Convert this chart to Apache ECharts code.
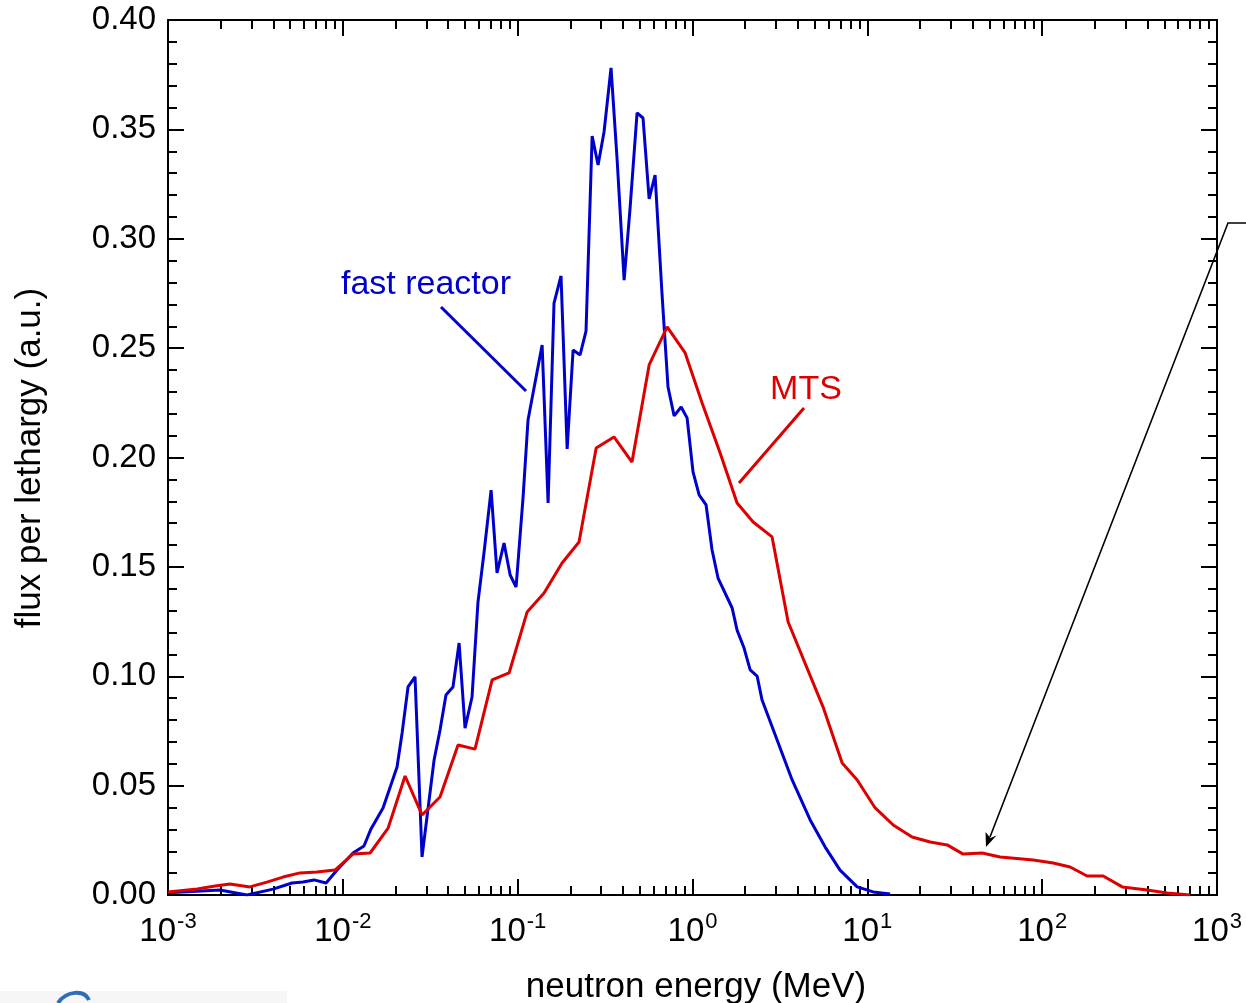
<!DOCTYPE html>
<html>
<head>
<meta charset="utf-8">
<script src="https://cdn.jsdelivr.net/npm/echarts@6/dist/echarts.min.js"></script>
<style>
html,body{margin:0;padding:0;background:#fff;}
#chart{width:1246px;height:1003px;}
</style>
</head>
<body>
<div id="chart"></div>
<script>
// ---- data (energy in MeV, flux per lethargy in a.u.) ----
var blueE = [0.0010,0.00198,0.00283,0.00399,0.00512,0.00592,0.00684,0.00802,0.00927,0.01143,0.01321,0.01449,0.01698,0.02042,0.02183,0.02360,0.02588,0.02838,0.03326,0.03597,0.03890,0.04266,0.04624,0.05000,0.05483,0.05929,0.06427,0.07047,0.07621,0.08356,0.09057,0.09795,0.1074,0.1146,0.1380,0.1493,0.1614,0.1770,0.1919,0.2075,0.2275,0.2460,0.2667,0.2884,0.3119,0.3420,0.3707,0.4064,0.4396,0.4819,0.5212,0.5649,0.6109,0.6699,0.7244,0.7852,0.8610,0.9311,1.007,1.091,1.196,1.294,1.400,1.686,1.799,1.972,2.137,2.342,2.500,3.048,3.715,4.710,5.741,6.98,8.75,10.8,13.5];
var blueFlux = [0.001,0.0023,0.0000,0.0027,0.0055,0.0059,0.0069,0.0055,0.0114,0.0192,0.0224,0.0302,0.0398,0.0585,0.0741,0.0951,0.0997,0.0174,0.0617,0.0754,0.0914,0.0951,0.1152,0.0763,0.0905,0.1339,0.1568,0.1851,0.1472,0.1609,0.1463,0.1408,0.1819,0.2171,0.2514,0.1792,0.2706,0.2830,0.2039,0.2491,0.2469,0.2578,0.3470,0.3337,0.3488,0.3781,0.3360,0.2811,0.3141,0.3575,0.3552,0.3182,0.3291,0.2743,0.2322,0.2190,0.2231,0.2181,0.1934,0.1829,0.1783,0.1577,0.1449,0.1312,0.1211,0.1129,0.1029,0.1001,0.0891,0.0709,0.0526,0.0343,0.0219,0.0114,0.0037,0.0014,0.0005];
var redE = [0.0010,0.00147,0.00186,0.00226,0.00294,0.00368,0.00455,0.00569,0.00711,0.00901,0.01143,0.01432,0.01816,0.02270,0.02838,0.03597,0.04560,0.05702,0.07145,0.08933,0.1133,0.1416,0.1795,0.2244,0.2812,0.3556,0.4508,0.5649,0.7161,0.9078,1.135,1.439,1.799,2.222,2.852,3.524,5.585,7.178,8.75,11.09,14.06,18.03,22.87,28.62,35.32,45.36,57.5,88.9,115.6,144.5,180.8,223.4,287.1,399,519,703];
var redFlux = [0.0014,0.0027,0.0041,0.0050,0.0037,0.0059,0.0082,0.0101,0.0105,0.0114,0.0187,0.0192,0.0306,0.0544,0.0366,0.0448,0.0686,0.0667,0.0983,0.1015,0.1294,0.1381,0.1518,0.1614,0.2043,0.2094,0.1979,0.2423,0.2597,0.2478,0.2249,0.2021,0.1792,0.1705,0.1637,0.1248,0.0859,0.0603,0.0526,0.0398,0.0320,0.0265,0.0242,0.0229,0.0187,0.0192,0.0174,0.0160,0.0146,0.0128,0.0087,0.0087,0.0037,0.0023,0.0009,0.0000];
var xMajorTicks = [0.001,0.01,0.1,1,10,100,1000];
var yTicks = [0,0.05,0.10,0.15,0.20,0.25,0.30,0.35,0.40];
var seriesNames = ['fast reactor','MTS'];

// log minor tick positions 2..9 x 10^n
var xMinorTicks = [];
for (var d = -3; d < 3; d++) {
  for (var m = 2; m <= 9; m++) xMinorTicks.push(parseFloat((m * Math.pow(10, d)).toPrecision(3)));
}

var FONT = '"Liberation Sans", Arial, sans-serif';
var BLUE = '#0000CD';
var RED = '#DD0000';

function pairs(xs, ys) { return xs.map(function (x, i) { return [x, ys[i]]; }); }

function xAxisDef(pos, major) {
  return {
    type: 'log', logBase: 10, min: 0.001, max: 1000, position: pos,
    axisLine: { show: major, onZero: false, lineStyle: { color: '#000', width: 2 } },
    axisTick: { show: true, inside: true, length: major ? 16 : 9,
      customValues: major ? xMajorTicks : xMinorTicks,
      lineStyle: { color: '#000', width: 2 } },
    axisLabel: (major && pos === 'bottom') ? {
      show: true, customValues: xMajorTicks, margin: 18,
      formatter: function (v) {
        var e = Math.round(Math.log10(v));
        return '{b|10}{s|' + e + '}';
      },
      rich: {
        b: { fontSize: 33, fontFamily: FONT, color: '#000', verticalAlign: 'bottom', lineHeight: 35 },
        s: { fontSize: 22, fontFamily: FONT, color: '#000', verticalAlign: 'bottom', lineHeight: 35, padding: [0, 0, 15, 1] }
      }
    } : { show: false },
    splitLine: { show: false },
    minorTick: { show: false }
  };
}

function yAxisDef(pos) {
  return {
    type: 'value', min: 0, max: 0.4, interval: 0.05, position: pos,
    axisLine: { show: true, onZero: false, lineStyle: { color: '#000', width: 2 } },
    axisTick: { show: true, inside: true, length: 16, lineStyle: { color: '#000', width: 2 } },
    minorTick: { show: true, splitNumber: 5, length: 9, lineStyle: { color: '#000', width: 2 } },
    axisLabel: pos === 'left' ? {
      show: true, margin: 12, fontSize: 33, fontFamily: FONT, color: '#000',
      formatter: function (v) { return v.toFixed(2); }
    } : { show: false },
    splitLine: { show: false }
  };
}

var chart = echarts.init(document.getElementById('chart'), null, { renderer: 'canvas' });

var option = {
  backgroundColor: '#fff',
  animation: false,
  grid: { left: 168, right: 29, top: 20, bottom: 108, containLabel: false, outerBoundsMode: 'none' },
  xAxis: [xAxisDef('bottom', true), xAxisDef('bottom', false), xAxisDef('top', true), xAxisDef('top', false)],
  yAxis: [yAxisDef('left'), yAxisDef('right')],
  series: [
    { name: seriesNames[0], type: 'line', xAxisIndex: 0, yAxisIndex: 0, data: pairs(blueE, blueFlux),
      showSymbol: false, symbol: 'none', lineStyle: { color: BLUE, width: 3 }, z: 3 },
    { name: seriesNames[1], type: 'line', xAxisIndex: 0, yAxisIndex: 0, data: pairs(redE, redFlux),
      showSymbol: false, symbol: 'none', lineStyle: { color: RED, width: 3 }, z: 4 }
  ],
  graphic: [
    { type: 'text', style: { text: 'neutron energy (MeV)', fontSize: 35, fontFamily: FONT, fill: '#000',
      x: 696, y: 987, align: 'center', verticalAlign: 'middle' } },
    { type: 'text', rotation: Math.PI / 2, x: 30, y: 458,
      style: { text: 'flux per lethargy (a.u.)', fontSize: 35, fontFamily: FONT, fill: '#000', x: 0, y: 0, align: 'center', verticalAlign: 'middle' } },
    { type: 'text', style: { text: seriesNames[0], fontSize: 34, fontFamily: FONT, fill: BLUE, x: 426, y: 285, align: 'center', verticalAlign: 'middle' } },
    { type: 'line', shape: { x1: 441, y1: 307, x2: 526, y2: 391 }, style: { stroke: BLUE, lineWidth: 3 } },
    { type: 'text', style: { text: seriesNames[1], fontSize: 34, fontFamily: FONT, fill: RED, x: 806, y: 390, align: 'center', verticalAlign: 'middle' } },
    { type: 'line', shape: { x1: 804, y1: 408, x2: 739, y2: 483 }, style: { stroke: RED, lineWidth: 3 } },
    { type: 'polyline', shape: { points: [[1246, 223], [1228, 223], [990, 837]] }, style: { stroke: '#000', lineWidth: 1.6, fill: null } },
    { type: 'polygon', shape: { points: [[986, 847], [996.5, 835.5], [990.5, 838], [985.5, 832]] }, style: { fill: '#000' } },
    { type: 'rect', shape: { x: 0, y: 991, width: 287, height: 12 }, style: { fill: '#f6f6f6' }, z: -1 },
    { type: 'bezierCurve', shape: { x1: 58, y1: 1003, cpx1: 66, cpy1: 991, cpx2: 84, cpy2: 989, x2: 89, y2: 1000 }, style: { stroke: '#2f6db8', lineWidth: 4, fill: null } }
  ]
};
chart.setOption(option);
</script>
</body>
</html>
